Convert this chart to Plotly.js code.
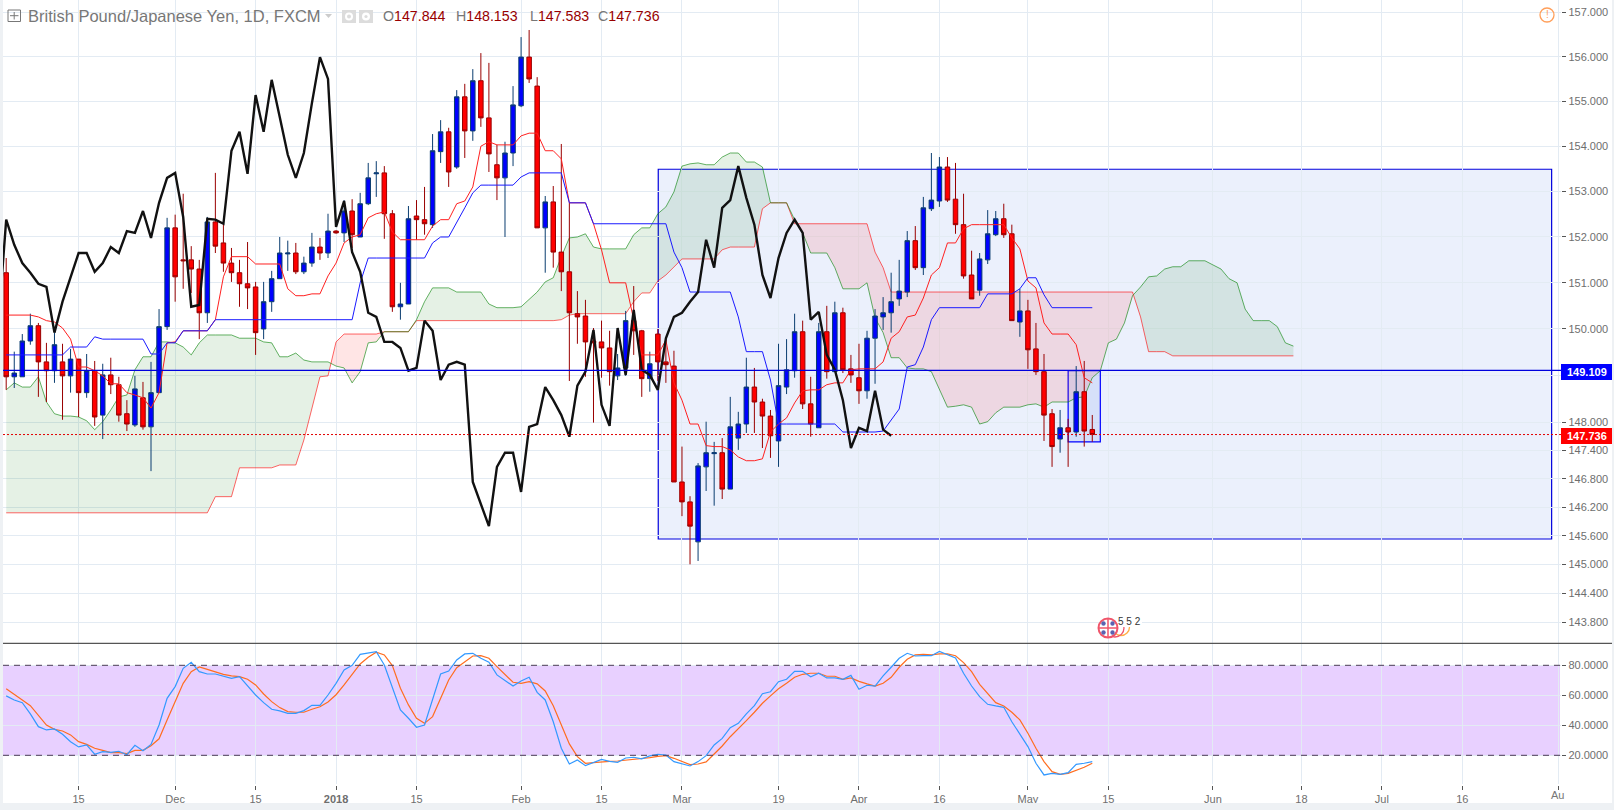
<!DOCTYPE html>
<html><head><meta charset="utf-8">
<script src="https://cdn.plot.ly/plotly-3.0.1.min.js"></script>
<style>html,body{margin:0;padding:0;background:#fff;overflow:hidden}</style>
</head><body><div id="chart" style="width:1614px;height:810px"></div>
<script>
// Daily candles, 2 Nov 2017 onward (weekdays only, index = bar number)
const opens=[151.22,148.97,148.97,149.74,150.07,149.29,149.10,149.29,148.99,149.35,148.63,149.10,148.15,149.01,148.80,148.18,147.94,148.52,147.90,148.63,150.05,152.20,151.50,151.50,151.30,150.35,152.33,151.87,151.43,151.22,150.98,150.91,150.00,150.59,151.09,151.63,151.65,151.24,151.43,151.78,151.65,152.13,152.09,152.57,152.00,152.73,153.39,153.41,152.51,150.48,150.54,152.46,152.38,152.27,153.88,154.32,153.54,155.10,154.34,155.46,154.63,153.59,153.30,153.85,154.90,155.99,155.34,152.20,152.77,151.67,151.24,150.33,150.28,149.74,149.72,149.59,148.99,149.16,150.18,149.96,148.93,149.89,149.29,149.20,146.73,146.31,145.47,147.05,147.33,147.35,146.58,147.66,147.96,148.75,148.43,148.13,147.60,148.75,149.10,149.94,148.39,147.88,149.94,149.08,150.35,149.14,148.95,148.67,149.80,150.26,150.35,150.65,150.80,151.92,151.33,152.62,152.79,153.54,152.83,152.27,151.17,150.84,151.50,152.05,152.40,152.07,150.15,150.39,149.57,149.08,148.18,147.64,147.88,147.79,148.65,147.844];
const highs=[151.54,149.51,149.89,150.33,150.13,149.70,149.92,149.68,149.57,149.35,149.46,149.31,149.25,149.38,148.97,148.47,148.99,148.86,149.29,150.43,152.42,152.49,152.95,151.80,151.50,152.44,153.41,152.31,151.76,151.50,151.89,151.02,151.02,151.26,152.00,151.92,151.87,151.57,152.09,151.98,152.51,152.15,152.81,152.83,152.97,153.63,153.67,153.56,152.59,151.00,152.68,152.81,153.10,154.27,154.58,154.41,155.25,155.39,155.72,156.08,155.86,154.03,154.10,155.34,156.44,156.60,155.54,152.90,153.12,154.05,152.75,150.82,150.63,150.02,150.18,149.96,149.46,150.39,150.93,149.98,149.51,150.00,149.80,149.53,147.48,146.43,147.13,148.01,147.58,147.66,148.54,148.22,149.38,149.16,148.50,148.26,149.68,149.78,150.33,150.18,148.97,150.13,150.50,150.59,150.46,149.44,149.68,149.96,150.43,150.69,151.22,151.50,152.13,152.24,152.88,153.85,153.76,153.76,153.63,152.95,151.70,151.65,152.59,152.57,152.73,152.27,150.87,150.63,150.13,149.46,148.28,148.26,148.07,149.20,149.31,148.153];
const lows=[148.69,148.73,148.97,149.66,148.54,148.43,148.84,148.05,148.63,148.11,148.52,147.92,147.64,148.60,148.01,147.81,147.90,147.84,146.96,148.63,149.98,150.59,150.87,150.78,149.78,150.13,151.65,151.24,151.02,150.48,150.43,149.44,149.78,150.37,151.09,151.26,151.19,151.19,151.35,151.50,151.54,152.07,151.89,151.76,152.00,152.70,152.88,151.96,150.37,150.20,150.54,151.94,152.05,152.20,153.63,153.10,153.50,153.74,154.12,154.43,153.43,152.81,152.00,153.56,154.87,155.41,152.20,151.22,151.33,150.82,148.88,149.68,148.97,147.99,148.95,148.78,148.90,148.99,149.44,148.54,148.65,148.88,148.84,146.73,146.01,145.00,145.07,146.54,146.23,146.37,146.58,147.41,147.77,147.77,147.45,147.24,147.05,148.60,148.95,148.28,147.69,147.88,148.93,149.08,149.05,148.84,148.39,148.50,148.82,149.98,149.92,150.50,150.69,151.28,151.17,152.57,152.66,152.77,152.07,151.09,150.65,150.72,151.41,152.02,151.98,150.18,149.83,149.14,149.01,147.60,147.05,147.35,147.05,147.69,147.48,147.583];
const closes=[148.97,149.05,149.74,150.07,149.29,149.10,149.66,148.99,149.35,148.63,149.10,148.11,149.01,148.80,148.15,147.96,148.71,147.90,148.63,150.05,152.20,151.13,151.48,151.30,150.35,152.33,151.80,151.43,151.22,150.98,150.89,149.92,150.59,151.09,151.65,151.65,151.24,151.43,151.78,151.65,152.13,152.09,152.57,152.05,152.73,153.30,153.41,152.51,150.48,150.54,152.40,152.38,152.29,153.90,154.32,153.43,155.10,154.34,155.46,154.63,153.83,153.30,153.85,154.92,155.99,155.50,152.20,152.77,151.67,151.24,150.35,150.26,149.72,149.70,149.59,149.08,149.16,150.18,149.96,148.93,149.25,149.29,149.23,146.73,146.31,145.80,147.07,147.35,147.35,146.58,147.90,147.96,148.75,148.43,148.13,147.71,148.78,149.12,149.94,148.39,147.96,149.94,149.08,150.35,149.12,149.01,148.67,149.80,150.28,150.35,150.59,150.82,151.92,151.33,152.64,152.81,153.54,152.81,152.27,151.15,150.65,151.52,152.07,152.40,152.05,150.18,150.39,149.55,149.08,148.15,147.48,147.88,147.79,148.65,147.81,147.736];

// Ichimoku lines
const tenkan=[150.30,150.30,150.30,150.30,150.26,150.18,150.15,150.02,149.78,149.18,149.18,149.10,148.99,148.82,148.82,148.63,148.58,148.52,148.30,148.63,149.70,149.72,149.96,149.96,149.96,149.96,150.20,151.13,151.57,151.57,151.57,151.41,151.41,151.41,151.41,150.87,150.72,150.72,150.76,150.76,151.15,151.43,151.87,152.00,152.05,152.42,152.51,152.55,152.11,151.94,151.94,151.94,151.94,152.24,152.38,152.38,152.73,152.79,153.10,154.00,154.10,154.03,154.03,154.03,154.23,154.29,154.29,153.90,153.90,153.72,152.75,152.75,152.75,152.29,151.72,151.00,151.00,151.00,150.20,149.44,149.44,149.44,149.76,148.84,148.47,147.96,147.96,147.50,147.48,147.48,147.41,147.26,147.18,147.18,147.22,147.79,147.96,148.09,148.41,148.67,148.69,148.69,148.80,148.84,148.84,149.12,149.14,149.14,149.14,149.29,149.80,149.94,150.26,150.30,150.67,151.17,151.33,151.87,151.87,152.18,152.27,152.27,152.27,152.27,152.27,151.98,151.74,151.04,150.89,150.13,149.89,149.89,149.89,149.66,148.95,148.84];
const kijun=[149.44,149.44,149.44,149.44,149.44,149.44,149.44,149.44,149.61,149.61,149.61,149.83,149.78,149.78,149.78,149.78,149.78,149.78,149.46,149.46,149.70,149.70,149.96,149.96,149.96,149.96,150.20,150.20,150.20,150.20,150.20,150.20,150.20,150.20,150.20,150.20,150.20,150.20,150.20,150.20,150.20,150.20,150.20,150.20,151.00,151.54,151.54,151.54,151.54,151.54,151.54,151.54,151.54,151.87,152.00,152.00,152.31,152.64,152.97,153.14,153.14,153.14,153.14,153.14,153.32,153.41,153.41,153.41,153.41,153.41,152.75,152.75,152.75,152.29,152.29,152.29,152.29,152.29,152.29,152.29,152.29,152.29,152.29,151.67,151.33,150.80,150.80,150.80,150.80,150.80,150.80,150.26,149.51,149.51,149.51,148.90,147.96,147.96,147.96,147.96,147.96,147.96,147.96,147.96,147.79,147.79,147.79,147.79,147.79,147.81,148.05,148.28,149.18,149.23,149.61,150.20,150.46,150.46,150.46,150.46,150.46,150.46,150.76,150.76,150.76,150.76,150.87,151.11,151.11,150.74,150.46,150.46,150.46,150.46,150.46,150.46];
const senkouA=[148.69,148.84,148.75,148.75,148.97,148.43,148.18,148.13,148.13,148.11,148.03,147.84,148.01,148.26,148.54,148.58,149.12,149.40,149.40,149.72,149.72,149.70,149.61,149.44,149.70,149.87,149.87,149.87,149.87,149.80,149.80,149.80,149.72,149.70,149.40,149.40,149.48,149.33,149.29,149.29,149.29,149.20,149.16,148.84,149.08,149.70,149.72,149.94,149.94,149.94,149.94,150.20,150.59,150.89,150.89,150.89,150.80,150.80,150.80,150.80,150.54,150.46,150.46,150.46,150.48,150.63,150.80,151.02,151.11,151.57,151.98,152.00,152.07,151.78,151.74,151.74,151.74,151.74,152.05,152.20,152.20,152.51,152.66,152.99,153.56,153.61,153.63,153.59,153.59,153.76,153.85,153.85,153.65,153.65,153.54,152.75,152.75,152.75,152.38,152.09,151.65,151.65,151.65,151.33,150.87,150.87,150.87,151.00,150.24,149.92,149.38,149.38,149.16,149.14,149.14,149.08,148.71,148.32,148.34,148.37,148.32,147.96,148.01,148.20,148.32,148.32,148.32,148.37,148.39,148.32,148.43,148.43,148.43,148.52,148.54,148.95,149.10,149.70,149.78,150.13,150.72,150.91,151.13,151.15,151.30,151.35,151.35,151.48,151.48,151.48,151.39,151.30,151.09,151.00,150.43,150.18,150.18,150.18,150.05,149.70,149.63];
const senkouB=[146.08,146.08,146.08,146.08,146.08,146.08,146.08,146.08,146.08,146.08,146.08,146.08,146.08,146.08,146.08,146.08,146.08,146.08,146.08,146.08,146.08,146.08,146.08,146.08,146.08,146.08,146.42,146.42,146.42,147.03,147.03,147.03,147.03,147.03,147.09,147.09,147.09,147.62,148.32,148.97,148.99,149.72,149.89,149.89,149.89,149.89,149.89,149.94,149.94,149.94,149.94,150.18,150.18,150.18,150.18,150.18,150.18,150.18,150.18,150.18,150.18,150.18,150.18,150.18,150.18,150.18,150.18,150.18,150.18,150.20,150.30,150.33,150.33,150.33,150.33,150.33,150.33,150.33,150.59,150.78,150.78,151.04,151.17,151.35,151.52,151.52,151.52,151.52,151.52,151.72,151.78,151.78,151.78,151.78,152.62,152.75,152.75,152.75,152.29,152.29,152.29,152.29,152.29,152.29,152.29,152.29,152.29,152.29,151.67,151.33,150.80,150.80,150.80,150.80,150.80,150.80,150.80,150.80,150.80,150.80,150.80,150.80,150.80,150.80,150.80,150.80,150.80,150.80,150.80,150.80,150.80,150.80,150.80,150.80,150.80,150.80,150.80,150.80,150.80,150.80,150.80,150.26,149.51,149.51,149.51,149.42,149.42,149.42,149.42,149.42,149.42,149.42,149.42,149.42,149.42,149.42,149.42,149.42,149.42,149.42,149.42];
// Lagging span: the first value sits one bar before the first candle
const chikouStart=-1;
const chikou=[150.05,152.38,151.83,151.43,151.22,150.98,150.91,149.92,150.59,151.11,151.65,151.65,151.24,151.43,151.78,151.65,152.13,152.09,152.57,151.98,152.75,153.30,153.41,152.44,150.48,150.52,152.40,152.38,152.29,153.90,154.32,153.39,155.14,154.32,155.48,154.65,153.81,153.30,153.85,154.96,155.99,155.50,152.22,152.79,151.67,151.24,150.35,150.26,149.72,149.72,149.59,149.10,149.16,150.18,149.96,148.90,149.23,149.29,149.23,146.73,146.25,145.80,147.05,147.35,147.35,146.52,147.90,147.96,148.75,148.47,148.15,147.69,148.78,149.08,149.98,148.37,147.92,150.02,149.01,150.41,149.12,149.01,148.69,149.80,150.26,150.35,150.59,150.80,151.94,151.33,152.64,152.81,153.56,152.86,152.27,151.17,150.67,151.54,152.09,152.38,152.09,150.20,150.37,149.44,149.12,148.47,147.45,147.88,147.81,148.67,147.84,147.71];

// Stochastic pane
const stochK=[59.6,56.9,55.1,47.6,39.1,36.9,37.6,34,29.1,25.6,26.9,20.7,22.4,22,22.7,20.4,26.7,23.1,27.3,40.2,58,65.8,78,82,75.8,74.2,74.2,72.9,71.3,72.4,66.2,60.2,55.1,50.7,49.6,48,48,49.8,53.3,53.3,60.2,68,76.9,80,87.3,88,89.1,80.2,65.8,50.2,44.7,38.7,40.2,58,74.2,76.2,83.6,87.6,88,84.7,82,73.6,69.8,66.2,69.6,72,62,56.9,42.4,24.7,14.2,16.9,13.1,15.3,17.3,16,15.3,18.2,18.7,17.6,19.6,20.7,20.2,15.8,14.2,12.9,15.8,19.8,26.9,31.3,38.4,41.3,47.6,53.1,61.1,62.4,69.1,70.7,76,76,72.4,74.7,71.6,71.6,70.7,73.3,64,66.7,66.2,72.9,78.7,84.7,88,86.2,86.4,86.4,89.3,87.1,84.9,74.7,66.2,59.1,54,52.9,52,42.4,34.2,25.8,14.7,6.9,8,7.3,8.4,14,14.7,15.8];
const stochD=[64.4,60.9,56.9,53.1,46.4,40.2,37.3,36.2,33.6,29.1,27.3,24.7,23.3,21.8,21.8,21.1,23.3,23.3,26.4,31,43.6,55.8,68,75.8,78.9,77.3,75.6,74,72.9,72.4,70.7,66.9,60.9,55.8,51.8,49.1,48.7,48.7,50.7,52.4,55.6,60.4,66.9,73.6,80.9,85.3,88.7,86.9,79.8,64.7,53.6,44.7,41.3,45.8,58,70.2,78.4,82.4,86.2,86.4,84.7,79.1,73.6,68.7,68,69.1,67.6,62.9,53.1,40.2,27.6,19.1,14.7,15.1,15.8,16,16.2,16.7,17.1,17.8,18.4,19.3,19.8,18,15.8,13.8,14.2,15.6,20.9,26.2,32.4,37.6,43.1,48.7,54.7,59.6,64.4,68,72,74,74.7,74.7,72.7,72.7,70.7,71.6,69.3,67.6,66.2,68,72,78.7,84,86.9,87.3,86.9,87.6,87.6,86.4,81.8,75.8,67.3,60.9,55.1,52.9,48.7,43.6,34.7,24.7,15.8,9.1,7.3,8,9.8,12,14.7];

// Axis labels
const xTickBars=[9,21,31,41,51,64,74,84,96,106,116,127,137,150,161,171,181,193];
const xTickText=["15","Dec","15","<b>2018</b>","15","Feb","15","Mar","19","Apr","16","May","15","Jun","18","Jul","16",""];
const priceTicks=[157,156,155,154,153,152,151,150,149,148,147.4,146.8,146.2,145.6,145,144.4,143.8];
const priceTickText=["157.000","156.000","155.000","154.000","153.000","152.000","151.000","150.000","149.000","148.000","147.400","146.800","146.200","145.600","145.000","144.400","143.800"];
const stochTicks=[80,60,40,20];
const stochTickText=["80.0000","60.0000","40.0000","20.0000"];
// Drawn levels and boxes
const lineLevel=149.109, lastPrice=147.736;
const bigBox={x0:81.05,x1:192.1,y0:145.53,y1:153.49};
const smallBox={x0:132,x1:136,y0:147.58,y1:149.10};
const legendO="147.844",legendH="148.153",legendL="147.583",legendC="147.736";

const W=1614,H=810;
const px=v=>v/W, py=v=>1-v/H;
const barX=opens.map((_,i)=>i);
const LEFT=3,AXIS=1561,PANE=643.3,BOT=784.3;
const barStep=8.045, bar0=6.2;
const xRange=[(LEFT-bar0)/barStep,(AXIS-bar0)/barStep];
const priceRange=[Math.log10(143.36),Math.log10(157.278)];

// Cloud polygons, split where the two spans change sides
function cloudTraces(){
  const out=[];let xs=[],as=[],bs=[];let sign=null;
  function flush(){
    if(xs.length>1){
      out.push({type:'scatter',mode:'lines',x:xs.concat(xs.slice().reverse()),y:as.concat(bs.slice().reverse()),
        fill:'toself',fillcolor:sign>0?'rgba(0,120,0,0.10)':'rgba(255,0,0,0.10)',line:{width:0},hoverinfo:'skip',showlegend:false,zorder:-1});
    }
  }
  senkouA.forEach((a,i)=>{
    const b=senkouB[i],s=a>=b?1:-1;
    if(sign!==null&&s!==sign){
      const d0=as[as.length-1]-bs[bs.length-1],d1=a-b,t=d0/(d0-d1);
      const cx=i-1+t,cy=as[as.length-1]+(a-as[as.length-1])*t;
      xs.push(cx);as.push(cy);bs.push(cy);flush();
      xs=[cx];as=[cy];bs=[cy];
    }
    sign=s;xs.push(i);as.push(a);bs.push(b);
  });
  flush();return out;
}
const line=(x,y,color,width,xa,ya,z)=>({type:'scatter',mode:'lines',x,y,xaxis:xa||'x',yaxis:ya||'y',line:{color,width},hoverinfo:'skip',showlegend:false,zorder:z||0,cliponaxis:true});
const cloudX=senkouA.map((_,i)=>i);
const chikouX=chikou.map((_,i)=>chikouStart+i);
const traces=[
  ...cloudTraces(),
  line(cloudX,senkouB,'rgba(255,0,0,0.6)',1,'x','y',-1),
  line(cloudX,senkouA,'rgba(0,128,0,0.6)',1,'x','y',-1),
  {type:'candlestick',x:barX,open:opens,high:highs,low:lows,close:closes,xaxis:'x',yaxis:'y',whiskerwidth:0,hoverinfo:'skip',showlegend:false,
    increasing:{line:{color:'#0a3d70',width:1},fillcolor:'#0000ff'},
    decreasing:{line:{color:'#990000',width:1},fillcolor:'#ff0000'}},
  line(barX,tenkan,'#ff2020',1),
  line(barX,kijun,'#1a1aff',1),
  line(chikouX,chikou,'#111111',2.4),
  line(barX,stochD,'#ff6d20',1.2,'x2','y2'),
  line(barX,stochK,'#3399ff',1.2,'x2','y2'),
];

const rectP=(x0,y0,x1,y1,fill,lineColor,lw,layer)=>({type:'rect',xref:'paper',yref:'paper',x0:px(x0),x1:px(x1),y0:py(y0),y1:py(y1),fillcolor:fill,line:{color:lineColor||'rgba(0,0,0,0)',width:lw||0},layer:layer||'above'});
const segP=(x0,y0,x1,y1,c,w,dash)=>({type:'line',xref:'paper',yref:'paper',x0:px(x0),x1:px(x1),y0:py(y0),y1:py(y1),line:{color:c,width:w,dash:dash||'solid'},layer:'above'});
const circP=(cx,cy,r,fill,c,w)=>({type:'circle',xref:'paper',yref:'paper',x0:px(cx-r),x1:px(cx+r),y0:py(cy+r),y1:py(cy-r),fillcolor:fill,line:{color:c,width:w},layer:'above'});
const shapes=[
  // page strips
  rectP(0,0,LEFT,810,'#eef1f4'),rectP(1612,0,1614,810,'#eef1f4'),rectP(0,803,1614,810,'#eef1f4'),
  // boxes
  {type:'rect',xref:'x',yref:'y',...bigBox,fillcolor:'rgba(30,90,225,0.09)',line:{color:'#0000dd',width:1.2},layer:'below'},
  {type:'rect',xref:'x',yref:'y',...smallBox,fillcolor:'rgba(30,90,225,0.10)',line:{color:'#0000ff',width:1.2},layer:'between'},
  // stochastic band
  {type:'rect',xref:'paper',yref:'y2',x0:px(LEFT),x1:px(1560),y0:20,y1:80,fillcolor:'rgba(140,20,255,0.20)',line:{width:0},layer:'below'},
  {type:'line',xref:'paper',yref:'y2',x0:px(LEFT),x1:px(1560),y0:80,y1:80,line:{color:'#4a3a55',width:1,dash:'6px,5px'},layer:'above'},
  {type:'line',xref:'paper',yref:'y2',x0:px(LEFT),x1:px(1560),y0:20,y1:20,line:{color:'#4a3a55',width:1,dash:'6px,5px'},layer:'above'},
  // levels
  {type:'line',xref:'paper',yref:'y',x0:px(LEFT),x1:px(AXIS+4),y0:lineLevel,y1:lineLevel,line:{color:'#0000dd',width:1.3},layer:'above'},
  {type:'line',xref:'paper',yref:'y',x0:px(LEFT),x1:px(AXIS),y0:lastPrice,y1:lastPrice,line:{color:'#e00000',width:1,dash:'2px,2px'},layer:'above'},
  rectP(AXIS,364,1612,380,'#0000ff'),
  rectP(AXIS,428,1612,444,'#ff0000'),
  // pane separator
  segP(LEFT,PANE,1612,PANE,'#555555',1.2),
  // header icons
  rectP(8,10,20.5,21.5,'rgba(0,0,0,0)','#777777',1),
  segP(14.2,12,14.2,19.5,'#777777',1),segP(10,15.7,18.5,15.7,'#777777',1),
  {type:'path',xref:'paper',yref:'paper',path:`M ${px(325)} ${py(14)} L ${px(332)} ${py(14)} L ${px(328.5)} ${py(18)} Z`,fillcolor:'#cccccc',line:{width:0},layer:'above'},
  rectP(342,10,356,23,'#dcdcdc'),circP(349,16.5,4,'#ffffff','#ffffff',0),circP(349,16.5,2,'#dcdcdc','#dcdcdc',0),
  rectP(359,10,373,23,'#dcdcdc'),circP(366,16.5,4,'#ffffff','#ffffff',0),circP(366,16.5,1.6,'#dcdcdc','#dcdcdc',0),
  // warning icon
  circP(1547,15,7,'rgba(0,0,0,0)','#ff9f5a',1.3),
  // event flag
  circP(1121,627,8.5,'rgba(0,0,0,0)','#ffae45',1.3),
  circP(1115,628,9,'rgba(0,0,0,0)','#f0556a',1.3),
  rectP(1112,612,1142,627,'#ffffff'),
  circP(1108,628,9.5,'#ffffff','#f0556a',2),
  segP(1098.5,628,1117.5,628,'#f0556a',1.5),segP(1108,618.5,1108,637.5,'#f0556a',1.5),
  circP(1103.5,623.5,2.2,'#5a62b0','#5a62b0',0),circP(1112.5,623.5,2.2,'#5a62b0','#5a62b0',0),
  circP(1103.5,632.5,2.2,'#5a62b0','#5a62b0',0),circP(1112.5,632.5,2.2,'#5a62b0','#5a62b0',0),
];
const textP=(x,y,t,size,color,anchor)=>({xref:'paper',yref:'paper',x:px(x),y:py(y),text:t,showarrow:false,xanchor:anchor||'left',yanchor:'middle',align:'left',borderpad:0,font:{family:'"Liberation Sans",Arial,sans-serif',size,color}});
const red=s=>`<span style="color:#990000">${s}</span>`;
const annotations=[
  textP(27,16,'British Pound/Japanese Yen, 1D, FXCM',16.5,'#777777'),
  textP(381.5,16,`O${red(legendO)}`,14.2,'#777777'),
  textP(454.5,16,`H${red(legendH)}`,14.2,'#777777'),
  textP(528.5,16,`L${red(legendL)}`,14.2,'#777777'),
  textP(597,16,`C${red(legendC)}`,14.2,'#777777'),
  textP(1547,15,'!',10,'#ff9f5a','center'),
  textP(1587,372,'<b>'+lineLevel.toFixed(3)+'</b>',11,'#ffffff','center'),
  textP(1587,436,'<b>'+lastPrice.toFixed(3)+'</b>',11,'#ffffff','center'),
  textP(1117,621.5,'5 5 2',10,'#333333'),
  textP(1550,795,'Au',11,'#777777'),
];
const gridC='#e3ebf3', axisC='#555555', tickFont={family:'"Liberation Sans",Arial,sans-serif',size:11,color:'#6e6e6e'};
const layout={
  width:W,height:H,margin:{l:0,r:0,t:0,b:0,pad:0},paper_bgcolor:'#ffffff',plot_bgcolor:'#ffffff',showlegend:false,
  boxgap:0.2,boxgroupgap:0.3,hovermode:false,dragmode:false,
  xaxis:{domain:[px(LEFT),px(AXIS)],range:xRange,anchor:'y',tickmode:'array',tickvals:xTickBars,ticktext:xTickBars.map(()=>''),showticklabels:false,ticks:'',showgrid:true,gridcolor:gridC,gridwidth:1,zeroline:false,showline:false,rangeslider:{visible:false},fixedrange:true},
  xaxis2:{domain:[px(LEFT),px(AXIS)],range:xRange,anchor:'y2',tickmode:'array',tickvals:xTickBars,ticktext:xTickText,ticks:'outside',ticklen:4,tickcolor:axisC,tickfont:tickFont,showgrid:true,gridcolor:gridC,gridwidth:1,zeroline:false,showline:true,linecolor:axisC,linewidth:1.2,tickangle:0,fixedrange:true},
  yaxis:{domain:[py(PANE),1],type:'log',range:priceRange,side:'right',anchor:'x',tickmode:'array',tickvals:priceTicks,ticktext:priceTickText,ticks:'outside',ticklen:4,tickcolor:axisC,tickfont:tickFont,showgrid:true,gridcolor:gridC,gridwidth:1,zeroline:false,showline:true,linecolor:axisC,linewidth:1.2,fixedrange:true},
  yaxis2:{domain:[py(BOT),py(PANE)],range:[0.67,94.67],side:'right',anchor:'x2',tickmode:'array',tickvals:stochTicks,ticktext:stochTickText,ticks:'outside',ticklen:4,tickcolor:axisC,tickfont:tickFont,showgrid:true,gridcolor:gridC,gridwidth:1,zeroline:false,showline:true,linecolor:axisC,linewidth:1.2,fixedrange:true},
  shapes,annotations
};
Plotly.newPlot('chart',traces,layout,{displayModeBar:false,responsive:false,staticPlot:true});
</script></body></html>
